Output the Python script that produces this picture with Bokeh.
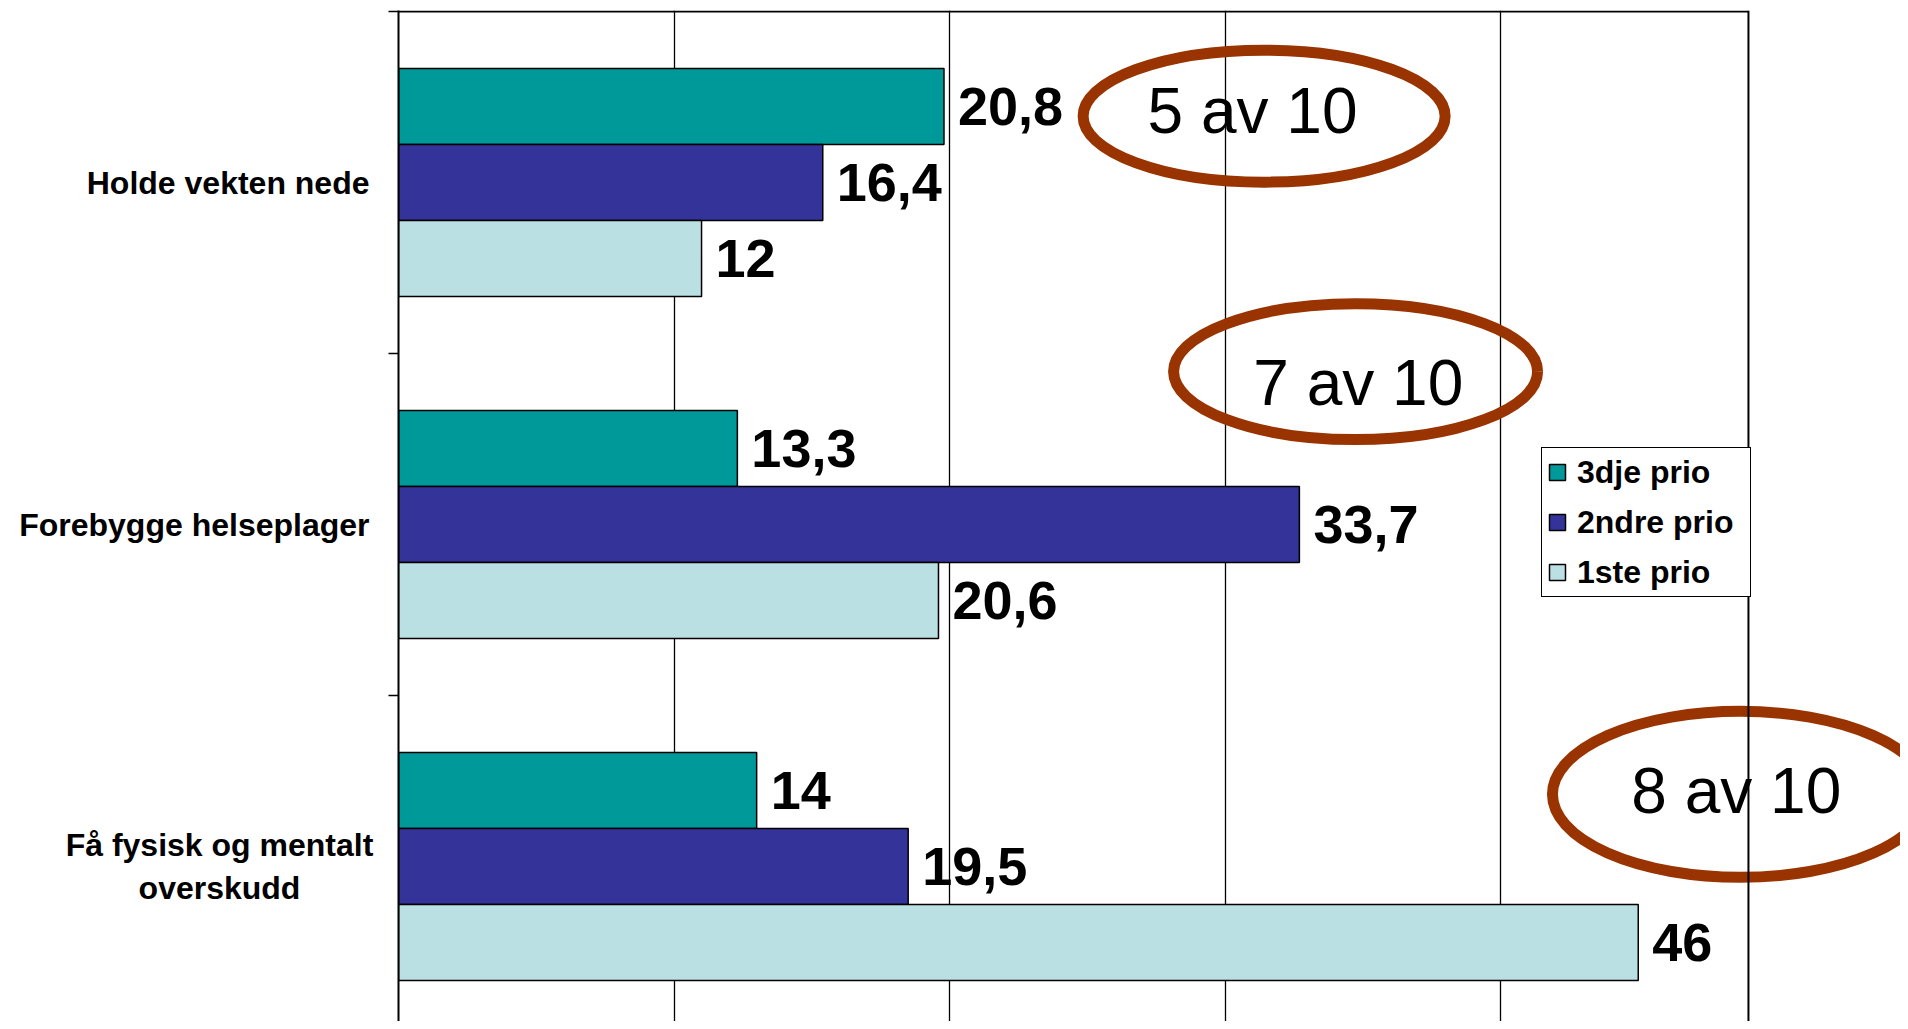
from bokeh.plotting import figure
from bokeh.layouts import row
from bokeh.models import FixedTicker, Range1d, Span, Legend
from bokeh.core.properties import value
from bokeh.embed import file_html
from bokeh.resources import INLINE

# ---- data ----
categories = ["Holde vekten nede", "Forebygge helseplager", "Få fysisk og mentalt\noverskudd"]
series = ["3dje prio", "2ndre prio", "1ste prio"]
prio3 = [20.8, 13.3, 14]
prio2 = [16.4, 33.7, 19.5]
prio1 = [12, 20.6, 46]
callout_texts = ["5 av 10", "7 av 10", "8 av 10"]

# ---- axis configuration ----
AXIS_MIN, AXIS_MAX, MAJOR = 1, 50, 10
colors = ["#009999", "#333399", "#BBE0E3"]
BAR_H = 0.2222
offsets = [-BAR_H, 0.0, BAR_H]

# callout annotation layout (data x, category position, screen w, screen h)
callout_x = [32.42, 35.74, 49.71]
callout_y = [-0.194, 0.553, 1.789]
callout_w = [362, 364, 376]
callout_h = [132, 136, 166]
callout_tx = [32.0, 35.84, 49.56]
callout_ty = [-0.21, 0.585, 1.778]

W, H = 1900, 1021
LABEL_W = 386          # width of the category-label panel
AXIS_BORDER = 12       # room for the outward category ticks
TOP = 10
frame_w = W - LABEL_W - AXIS_BORDER
frame_h = H - TOP
px_x = 27.55
px_y = 342.0
y_top = -0.5 - 1.0 / px_y
y_bottom = y_top + frame_h / px_y
x_end = AXIS_MIN + frame_w / px_x

yr = Range1d(y_bottom, y_top)

p = figure(width=W - LABEL_W, height=H, output_backend="svg", toolbar_location=None,
           x_range=Range1d(AXIS_MIN, x_end), y_range=yr,
           x_axis_location=None, min_border_left=AXIS_BORDER, min_border_top=TOP,
           min_border_right=0, min_border_bottom=0)
p.outline_line_color = None
p.background_fill_color = "white"
p.border_fill_color = "white"

# grid
p.ygrid.visible = False
p.xgrid.ticker = FixedTicker(ticks=list(range(AXIS_MIN + MAJOR, AXIS_MAX, MAJOR)))
p.xgrid.grid_line_color = "black"
p.xgrid.grid_line_width = 1.3

# bars
cat_idx = list(range(len(categories)))
renderers = []
for vals, off, col, name in zip([prio3, prio2, prio1], offsets, colors, series):
    ys = [i + off for i in cat_idx]
    r = p.hbar(y=ys, left=AXIS_MIN, right=vals, height=BAR_H, fill_color=col,
               line_color="black", line_width=1.5)
    renderers.append((name, [r]))
    labels = [("%g" % v).replace(".", ",") for v in vals]
    p.text(x=vals, y=ys, text=labels, x_offset=14, text_baseline="middle",
           text_align="left", text_font=value("Liberation Sans"),
           text_font_style="bold", text_font_size="54px", text_color="black")

# plot area border (top and right)
p.add_layout(Span(location=AXIS_MAX, dimension="height", line_color="black", line_width=2))
p.segment(x0=[AXIS_MIN], x1=[AXIS_MAX], y0=[-0.5], y1=[-0.5], line_color="black", line_width=2)

# callouts
p.ellipse(x=callout_x, y=callout_y, width=callout_w, height=callout_h,
          width_units="screen", height_units="screen",
          fill_color=None, line_color="#993300", line_width=11)
p.text(x=callout_tx, y=callout_ty, text=callout_texts, text_align="center",
       text_baseline="middle", text_font=value("Liberation Sans"),
       text_font_size="64px", text_color="black")

# y axis: only outward ticks at category boundaries
ax = p.yaxis[0]
ax.ticker = FixedTicker(ticks=[], minor_ticks=[i - 0.5 for i in range(len(categories) + 1)])
ax.major_tick_line_color = None
ax.major_tick_out = 0
ax.minor_tick_out = 10
ax.minor_tick_in = 0
ax.minor_tick_line_color = "black"
ax.minor_tick_line_width = 1.5
ax.axis_line_color = "black"
ax.axis_line_width = 2

# legend
legend = Legend(items=renderers, location=(1143, 424), margin=0, padding=5,
                spacing=12, label_height=38, glyph_width=20, glyph_height=20,
                label_standoff=10, label_width=168,
                label_text_font="Liberation Sans", label_text_font_style="bold",
                label_text_font_size="32px", label_text_color="black",
                border_line_color="black", border_line_width=1.5, border_line_alpha=1.0,
                background_fill_color="white", background_fill_alpha=1.0)
p.add_layout(legend, "center")

# ---- category label panel (shares the category scale) ----
LABEL_RIGHT = 369      # right edge of single-line labels (panel px)
MULTI_CENTER = 219     # centre of wrapped labels (panel px)
lab = figure(width=LABEL_W, height=H, output_backend="svg", toolbar_location=None,
             x_range=Range1d(0, LABEL_W), y_range=yr,
             x_axis_location=None, y_axis_location=None,
             min_border_left=0, min_border_right=0, min_border_top=TOP, min_border_bottom=0)
lab.outline_line_color = None
lab.xgrid.visible = False
lab.ygrid.visible = False
lab_x = [MULTI_CENTER if "\n" in c else LABEL_RIGHT for c in categories]
lab_align = ["center" if "\n" in c else "right" for c in categories]
lab.text(x=lab_x, y=cat_idx, text=categories, text_align=lab_align, text_baseline="middle",
         text_font=value("Liberation Sans"), text_font_style="bold",
         text_font_size="32px", text_color="black", text_line_height=1.17)

layout = row(lab, p, spacing=0)
open("out.html", "w").write(file_html(layout, INLINE))
